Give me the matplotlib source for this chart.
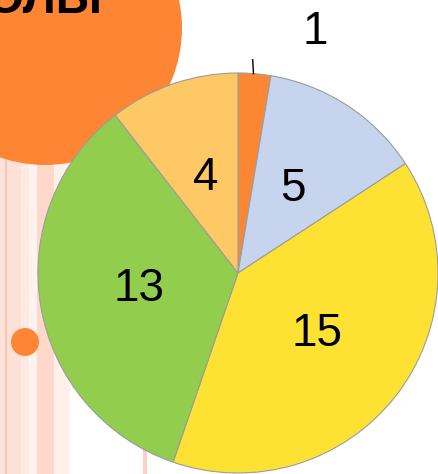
import matplotlib.pyplot as plt
import matplotlib.patches as patches
import numpy as np

values = [1, 5, 15, 13, 4]
colors = ['#fd8633', '#c6d4ee', '#fde233', '#92cd4e', '#fec864']
title_text = 'ШКОЛЫ'

W, H = 438, 474
fig = plt.figure(figsize=(W / 100, H / 100), dpi=100)
ax = fig.add_axes([0, 0, 1, 1])

# pink background stripes on the left
stripes = [(0, 5, '#fde2d9'), (5, 2, '#fcc6b4'), (7, 14, '#fde0d6'),
           (21, 8, '#fee9e3'), (29, 8, '#fff2ef'), (37, 17, '#fdd8cb'),
           (54, 16, '#fff0ec')]
for x0, w, c in stripes:
    ax.add_patch(patches.Rectangle((x0, 0), w, H, color=c, lw=0, zorder=0))
ax.add_patch(patches.Rectangle((143, 0), 4, 25, color='#fdcfc2', lw=0, zorder=0))

# orange circle with heading
ax.add_patch(patches.Circle((45, H - 28), 137, color='#fe8533', lw=0, zorder=1))
ax.text(103, H - 13, title_text, ha='right', va='baseline', fontsize=34,
        fontweight='bold', family='Liberation Sans', color='black', zorder=2)

# small dot
ax.add_patch(patches.Circle((25, H - 342), 14, color='#fe8533', lw=0, zorder=1))

cx, cy, r = 238, H - 273, 200
total = sum(values)


def fmt(pct):
    v = int(round(pct * total / 100))
    return '' if v == values[0] else str(v)


wedges, texts, autotexts = ax.pie(
    values, colors=colors, startangle=90, counterclock=False,
    center=(cx, cy), radius=r, autopct=fmt, pctdistance=0.5,
    wedgeprops=dict(edgecolor='#9c9c9c', linewidth=0.8),
    textprops=dict(fontsize=33, family='Liberation Sans', color='black'),
    frame=True)
for w in wedges:
    w.set_zorder(3)
for t in autotexts:
    t.set_zorder(4)
ax.set_xlim(0, W)
ax.set_ylim(0, H)
ax.set_aspect('equal')
ax.axis('off')

# label for the thin slice, outside with a short leader
w0 = wedges[0]
mid = np.deg2rad((w0.theta1 + w0.theta2) / 2)
ax.plot([cx + r * np.cos(mid) - 1, cx + r * 1.07 * np.cos(mid) - 3],
        [cy + r * np.sin(mid), cy + r * 1.07 * np.sin(mid)],
        color='black', lw=1, zorder=4)
ax.text(cx + 77, cy + 241, str(values[0]), ha='center', va='center',
        fontsize=33, family='Liberation Sans', color='black', zorder=4)

fig.savefig('out.png', dpi=100)
